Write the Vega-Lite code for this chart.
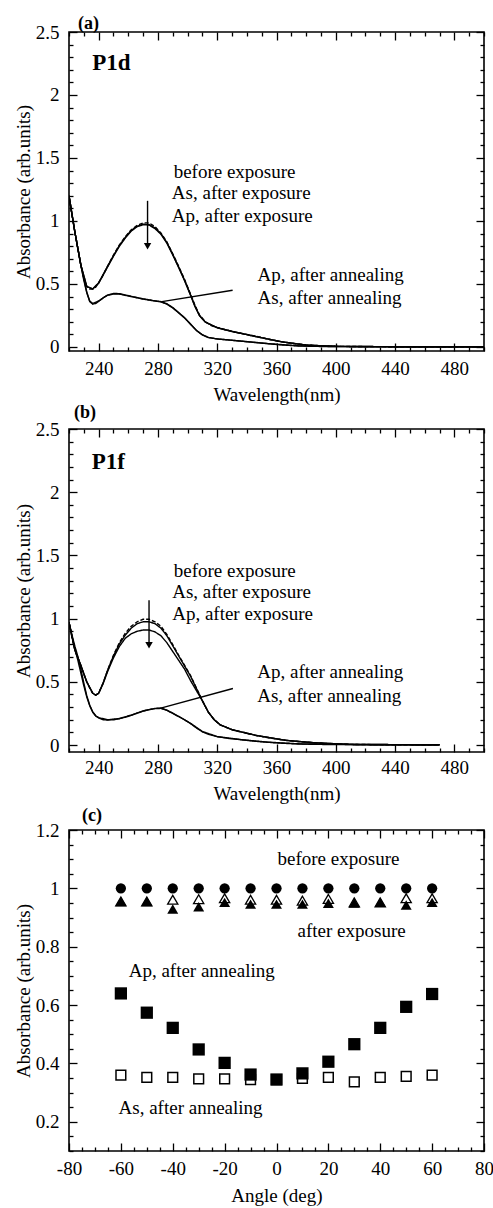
{
  "$schema": "https://vega.github.io/schema/vega-lite/v6.json",
  "padding": {"left": 13, "top": 14, "right": 5, "bottom": 2},
  "background": "white",
  "config": {
    "font": "Liberation Serif",
    "view": {"stroke": "black", "strokeWidth": 1.6},
    "axis": {"grid": false, "domain": false, "labelFont": "Liberation Serif", "labelFontSize": 19, "labelColor": "black", "titleFont": "Liberation Serif", "titleFontSize": 19, "titleFontWeight": "normal", "titleColor": "black", "tickColor": "black", "tickWidth": 1.3, "labelOverlap": false, "labelFlush": false, "labelBound": false},
    "title": {"font": "Liberation Serif", "color": "black"},
    "text": {"font": "Liberation Serif", "color": "black"}
  },
  "datasets": {
    "lineA": [
      {"s":"before","x":220,"y":1.2},{"s":"before","x":222,"y":1.05},{"s":"before","x":224,"y":0.91},{"s":"before","x":226,"y":0.78},{"s":"before","x":228,"y":0.65},{"s":"before","x":230,"y":0.54},{"s":"before","x":232,"y":0.48},{"s":"before","x":234,"y":0.46},{"s":"before","x":236,"y":0.46},{"s":"before","x":238,"y":0.475},{"s":"before","x":240,"y":0.51},{"s":"before","x":243,"y":0.57},{"s":"before","x":246,"y":0.64},{"s":"before","x":250,"y":0.73},{"s":"before","x":254,"y":0.81},{"s":"before","x":258,"y":0.875},{"s":"before","x":262,"y":0.93},{"s":"before","x":266,"y":0.965},{"s":"before","x":270,"y":0.985},{"s":"before","x":274,"y":0.985},{"s":"before","x":278,"y":0.955},{"s":"before","x":282,"y":0.905},{"s":"before","x":286,"y":0.835},{"s":"before","x":290,"y":0.74},{"s":"before","x":294,"y":0.64},{"s":"before","x":298,"y":0.535},{"s":"before","x":302,"y":0.42},{"s":"before","x":305,"y":0.33},{"s":"before","x":308,"y":0.255},{"s":"before","x":312,"y":0.2},{"s":"before","x":316,"y":0.17},{"s":"before","x":320,"y":0.155},{"s":"before","x":326,"y":0.135},{"s":"before","x":332,"y":0.12},{"s":"before","x":340,"y":0.1},{"s":"before","x":348,"y":0.08},{"s":"before","x":356,"y":0.057},{"s":"before","x":364,"y":0.04},{"s":"before","x":372,"y":0.027},{"s":"before","x":380,"y":0.016},{"s":"before","x":390,"y":0.008},{"s":"before","x":400,"y":0.005},{"s":"before","x":420,"y":0.003},{"s":"before","x":440,"y":0.002},{"s":"before","x":460,"y":0.002},{"s":"before","x":480,"y":0.002},{"s":"before","x":500,"y":0.002},
      {"s":"As_exp","x":220,"y":1.2},{"s":"As_exp","x":224,"y":0.91},{"s":"As_exp","x":228,"y":0.65},{"s":"As_exp","x":232,"y":0.48},{"s":"As_exp","x":236,"y":0.46},{"s":"As_exp","x":240,"y":0.51},{"s":"As_exp","x":246,"y":0.64},{"s":"As_exp","x":250,"y":0.725},{"s":"As_exp","x":254,"y":0.805},{"s":"As_exp","x":258,"y":0.87},{"s":"As_exp","x":262,"y":0.925},{"s":"As_exp","x":266,"y":0.958},{"s":"As_exp","x":270,"y":0.975},{"s":"As_exp","x":274,"y":0.972},{"s":"As_exp","x":278,"y":0.945},{"s":"As_exp","x":282,"y":0.9},{"s":"As_exp","x":286,"y":0.83},{"s":"As_exp","x":290,"y":0.735},{"s":"As_exp","x":294,"y":0.635},{"s":"As_exp","x":298,"y":0.53},{"s":"As_exp","x":302,"y":0.415},{"s":"As_exp","x":305,"y":0.325},{"s":"As_exp","x":308,"y":0.25},{"s":"As_exp","x":312,"y":0.198},{"s":"As_exp","x":320,"y":0.153},{"s":"As_exp","x":332,"y":0.118},{"s":"As_exp","x":348,"y":0.078},{"s":"As_exp","x":364,"y":0.04},{"s":"As_exp","x":380,"y":0.015},{"s":"As_exp","x":400,"y":0.005},{"s":"As_exp","x":440,"y":0.002},{"s":"As_exp","x":500,"y":0.002},
      {"s":"Ap_exp","x":220,"y":1.2},{"s":"Ap_exp","x":224,"y":0.91},{"s":"Ap_exp","x":228,"y":0.65},{"s":"Ap_exp","x":232,"y":0.48},{"s":"Ap_exp","x":236,"y":0.46},{"s":"Ap_exp","x":240,"y":0.505},{"s":"Ap_exp","x":246,"y":0.635},{"s":"Ap_exp","x":250,"y":0.72},{"s":"Ap_exp","x":254,"y":0.8},{"s":"Ap_exp","x":258,"y":0.865},{"s":"Ap_exp","x":262,"y":0.92},{"s":"Ap_exp","x":266,"y":0.955},{"s":"Ap_exp","x":270,"y":0.97},{"s":"Ap_exp","x":274,"y":0.968},{"s":"Ap_exp","x":278,"y":0.94},{"s":"Ap_exp","x":282,"y":0.895},{"s":"Ap_exp","x":286,"y":0.825},{"s":"Ap_exp","x":290,"y":0.73},{"s":"Ap_exp","x":294,"y":0.63},{"s":"Ap_exp","x":298,"y":0.525},{"s":"Ap_exp","x":302,"y":0.41},{"s":"Ap_exp","x":305,"y":0.32},{"s":"Ap_exp","x":308,"y":0.25},{"s":"Ap_exp","x":312,"y":0.197},{"s":"Ap_exp","x":320,"y":0.152},{"s":"Ap_exp","x":332,"y":0.117},{"s":"Ap_exp","x":348,"y":0.078},{"s":"Ap_exp","x":364,"y":0.04},{"s":"Ap_exp","x":380,"y":0.015},{"s":"Ap_exp","x":400,"y":0.005},{"s":"Ap_exp","x":440,"y":0.002},{"s":"Ap_exp","x":500,"y":0.002},
      {"s":"Ap_ann","x":220,"y":1.2},{"s":"Ap_ann","x":222,"y":1.05},{"s":"Ap_ann","x":224,"y":0.91},{"s":"Ap_ann","x":226,"y":0.78},{"s":"Ap_ann","x":228,"y":0.65},{"s":"Ap_ann","x":230,"y":0.53},{"s":"Ap_ann","x":232,"y":0.43},{"s":"Ap_ann","x":234,"y":0.36},{"s":"Ap_ann","x":236,"y":0.34},{"s":"Ap_ann","x":238,"y":0.345},{"s":"Ap_ann","x":240,"y":0.362},{"s":"Ap_ann","x":243,"y":0.39},{"s":"Ap_ann","x":246,"y":0.41},{"s":"Ap_ann","x":250,"y":0.42},{"s":"Ap_ann","x":254,"y":0.42},{"s":"Ap_ann","x":258,"y":0.41},{"s":"Ap_ann","x":262,"y":0.4},{"s":"Ap_ann","x":266,"y":0.39},{"s":"Ap_ann","x":270,"y":0.38},{"s":"Ap_ann","x":274,"y":0.372},{"s":"Ap_ann","x":278,"y":0.365},{"s":"Ap_ann","x":282,"y":0.358},{"s":"Ap_ann","x":286,"y":0.34},{"s":"Ap_ann","x":290,"y":0.31},{"s":"Ap_ann","x":294,"y":0.27},{"s":"Ap_ann","x":298,"y":0.23},{"s":"Ap_ann","x":302,"y":0.18},{"s":"Ap_ann","x":306,"y":0.13},{"s":"Ap_ann","x":310,"y":0.095},{"s":"Ap_ann","x":314,"y":0.075},{"s":"Ap_ann","x":320,"y":0.063},{"s":"Ap_ann","x":328,"y":0.055},{"s":"Ap_ann","x":336,"y":0.046},{"s":"Ap_ann","x":345,"y":0.036},{"s":"Ap_ann","x":355,"y":0.025},{"s":"Ap_ann","x":365,"y":0.015},{"s":"Ap_ann","x":375,"y":0.008},{"s":"Ap_ann","x":390,"y":0.004},{"s":"Ap_ann","x":420,"y":0.002},{"s":"Ap_ann","x":460,"y":0.002},{"s":"Ap_ann","x":500,"y":0.002},
      {"s":"As_ann","x":220,"y":1.2},{"s":"As_ann","x":224,"y":0.91},{"s":"As_ann","x":228,"y":0.65},{"s":"As_ann","x":232,"y":0.435},{"s":"As_ann","x":234,"y":0.365},{"s":"As_ann","x":236,"y":0.345},{"s":"As_ann","x":240,"y":0.365},{"s":"As_ann","x":246,"y":0.412},{"s":"As_ann","x":250,"y":0.425},{"s":"As_ann","x":254,"y":0.423},{"s":"As_ann","x":262,"y":0.402},{"s":"As_ann","x":270,"y":0.382},{"s":"As_ann","x":278,"y":0.366},{"s":"As_ann","x":282,"y":0.36},{"s":"As_ann","x":286,"y":0.343},{"s":"As_ann","x":290,"y":0.313},{"s":"As_ann","x":294,"y":0.273},{"s":"As_ann","x":298,"y":0.232},{"s":"As_ann","x":302,"y":0.182},{"s":"As_ann","x":306,"y":0.132},{"s":"As_ann","x":310,"y":0.097},{"s":"As_ann","x":314,"y":0.076},{"s":"As_ann","x":320,"y":0.064},{"s":"As_ann","x":336,"y":0.047},{"s":"As_ann","x":355,"y":0.026},{"s":"As_ann","x":375,"y":0.009},{"s":"As_ann","x":400,"y":0.003},{"s":"As_ann","x":460,"y":0.002},{"s":"As_ann","x":500,"y":0.002}
    ],
    "lineB": [
      {"s":"before","x":220,"y":0.97},{"s":"before","x":222,"y":0.85},{"s":"before","x":224,"y":0.75},{"s":"before","x":226,"y":0.69},{"s":"before","x":228,"y":0.63},{"s":"before","x":230,"y":0.56},{"s":"before","x":232,"y":0.5},{"s":"before","x":234,"y":0.45},{"s":"before","x":236,"y":0.41},{"s":"before","x":238,"y":0.395},{"s":"before","x":240,"y":0.41},{"s":"before","x":243,"y":0.49},{"s":"before","x":246,"y":0.59},{"s":"before","x":250,"y":0.71},{"s":"before","x":254,"y":0.81},{"s":"before","x":258,"y":0.885},{"s":"before","x":262,"y":0.94},{"s":"before","x":266,"y":0.975},{"s":"before","x":270,"y":0.995},{"s":"before","x":274,"y":0.995},{"s":"before","x":278,"y":0.975},{"s":"before","x":282,"y":0.94},{"s":"before","x":286,"y":0.875},{"s":"before","x":290,"y":0.795},{"s":"before","x":294,"y":0.71},{"s":"before","x":298,"y":0.63},{"s":"before","x":302,"y":0.55},{"s":"before","x":306,"y":0.45},{"s":"before","x":310,"y":0.35},{"s":"before","x":314,"y":0.26},{"s":"before","x":318,"y":0.2},{"s":"before","x":322,"y":0.16},{"s":"before","x":330,"y":0.122},{"s":"before","x":338,"y":0.1},{"s":"before","x":346,"y":0.077},{"s":"before","x":356,"y":0.055},{"s":"before","x":366,"y":0.038},{"s":"before","x":376,"y":0.026},{"s":"before","x":386,"y":0.018},{"s":"before","x":396,"y":0.011},{"s":"before","x":410,"y":0.005},{"s":"before","x":430,"y":0.003},{"s":"before","x":450,"y":0.002},{"s":"before","x":470,"y":0.002},
      {"s":"As_exp","x":220,"y":0.97},{"s":"As_exp","x":224,"y":0.75},{"s":"As_exp","x":228,"y":0.63},{"s":"As_exp","x":232,"y":0.5},{"s":"As_exp","x":236,"y":0.41},{"s":"As_exp","x":238,"y":0.395},{"s":"As_exp","x":240,"y":0.41},{"s":"As_exp","x":243,"y":0.49},{"s":"As_exp","x":246,"y":0.59},{"s":"As_exp","x":250,"y":0.705},{"s":"As_exp","x":254,"y":0.8},{"s":"As_exp","x":258,"y":0.87},{"s":"As_exp","x":262,"y":0.925},{"s":"As_exp","x":266,"y":0.96},{"s":"As_exp","x":270,"y":0.975},{"s":"As_exp","x":274,"y":0.975},{"s":"As_exp","x":278,"y":0.96},{"s":"As_exp","x":282,"y":0.925},{"s":"As_exp","x":286,"y":0.865},{"s":"As_exp","x":290,"y":0.785},{"s":"As_exp","x":294,"y":0.705},{"s":"As_exp","x":298,"y":0.625},{"s":"As_exp","x":302,"y":0.545},{"s":"As_exp","x":306,"y":0.447},{"s":"As_exp","x":310,"y":0.35},{"s":"As_exp","x":314,"y":0.26},{"s":"As_exp","x":318,"y":0.2},{"s":"As_exp","x":322,"y":0.16},{"s":"As_exp","x":330,"y":0.122},{"s":"As_exp","x":346,"y":0.077},{"s":"As_exp","x":366,"y":0.038},{"s":"As_exp","x":386,"y":0.018},{"s":"As_exp","x":410,"y":0.005},{"s":"As_exp","x":470,"y":0.002},
      {"s":"Ap_exp","x":220,"y":0.97},{"s":"Ap_exp","x":224,"y":0.75},{"s":"Ap_exp","x":228,"y":0.63},{"s":"Ap_exp","x":232,"y":0.5},{"s":"Ap_exp","x":236,"y":0.41},{"s":"Ap_exp","x":238,"y":0.395},{"s":"Ap_exp","x":240,"y":0.41},{"s":"Ap_exp","x":243,"y":0.485},{"s":"Ap_exp","x":246,"y":0.58},{"s":"Ap_exp","x":250,"y":0.69},{"s":"Ap_exp","x":254,"y":0.78},{"s":"Ap_exp","x":258,"y":0.845},{"s":"Ap_exp","x":262,"y":0.88},{"s":"Ap_exp","x":266,"y":0.9},{"s":"Ap_exp","x":270,"y":0.91},{"s":"Ap_exp","x":274,"y":0.91},{"s":"Ap_exp","x":278,"y":0.895},{"s":"Ap_exp","x":282,"y":0.865},{"s":"Ap_exp","x":286,"y":0.81},{"s":"Ap_exp","x":290,"y":0.74},{"s":"Ap_exp","x":294,"y":0.67},{"s":"Ap_exp","x":298,"y":0.6},{"s":"Ap_exp","x":302,"y":0.51},{"s":"Ap_exp","x":306,"y":0.43},{"s":"Ap_exp","x":310,"y":0.35},{"s":"Ap_exp","x":314,"y":0.26},{"s":"Ap_exp","x":318,"y":0.2},{"s":"Ap_exp","x":322,"y":0.16},{"s":"Ap_exp","x":330,"y":0.12},{"s":"Ap_exp","x":346,"y":0.076},{"s":"Ap_exp","x":366,"y":0.037},{"s":"Ap_exp","x":386,"y":0.017},{"s":"Ap_exp","x":410,"y":0.005},{"s":"Ap_exp","x":470,"y":0.002},
      {"s":"Ap_ann","x":220,"y":0.97},{"s":"Ap_ann","x":222,"y":0.86},{"s":"Ap_ann","x":224,"y":0.76},{"s":"Ap_ann","x":226,"y":0.67},{"s":"Ap_ann","x":228,"y":0.57},{"s":"Ap_ann","x":230,"y":0.47},{"s":"Ap_ann","x":232,"y":0.38},{"s":"Ap_ann","x":234,"y":0.31},{"s":"Ap_ann","x":236,"y":0.26},{"s":"Ap_ann","x":238,"y":0.23},{"s":"Ap_ann","x":240,"y":0.215},{"s":"Ap_ann","x":243,"y":0.2},{"s":"Ap_ann","x":246,"y":0.198},{"s":"Ap_ann","x":250,"y":0.2},{"s":"Ap_ann","x":254,"y":0.208},{"s":"Ap_ann","x":258,"y":0.22},{"s":"Ap_ann","x":262,"y":0.235},{"s":"Ap_ann","x":266,"y":0.252},{"s":"Ap_ann","x":270,"y":0.268},{"s":"Ap_ann","x":274,"y":0.28},{"s":"Ap_ann","x":278,"y":0.288},{"s":"Ap_ann","x":282,"y":0.29},{"s":"Ap_ann","x":286,"y":0.275},{"s":"Ap_ann","x":290,"y":0.25},{"s":"Ap_ann","x":294,"y":0.225},{"s":"Ap_ann","x":298,"y":0.2},{"s":"Ap_ann","x":302,"y":0.17},{"s":"Ap_ann","x":306,"y":0.135},{"s":"Ap_ann","x":310,"y":0.105},{"s":"Ap_ann","x":314,"y":0.085},{"s":"Ap_ann","x":320,"y":0.066},{"s":"Ap_ann","x":328,"y":0.052},{"s":"Ap_ann","x":336,"y":0.042},{"s":"Ap_ann","x":344,"y":0.032},{"s":"Ap_ann","x":354,"y":0.022},{"s":"Ap_ann","x":364,"y":0.014},{"s":"Ap_ann","x":376,"y":0.008},{"s":"Ap_ann","x":390,"y":0.005},{"s":"Ap_ann","x":420,"y":0.003},{"s":"Ap_ann","x":470,"y":0.002},
      {"s":"As_ann","x":220,"y":0.97},{"s":"As_ann","x":222,"y":0.87},{"s":"As_ann","x":224,"y":0.78},{"s":"As_ann","x":226,"y":0.7},{"s":"As_ann","x":228,"y":0.6},{"s":"As_ann","x":230,"y":0.49},{"s":"As_ann","x":232,"y":0.39},{"s":"As_ann","x":234,"y":0.315},{"s":"As_ann","x":236,"y":0.263},{"s":"As_ann","x":238,"y":0.232},{"s":"As_ann","x":240,"y":0.217},{"s":"As_ann","x":246,"y":0.2},{"s":"As_ann","x":254,"y":0.21},{"s":"As_ann","x":262,"y":0.237},{"s":"As_ann","x":270,"y":0.27},{"s":"As_ann","x":278,"y":0.29},{"s":"As_ann","x":282,"y":0.292},{"s":"As_ann","x":286,"y":0.277},{"s":"As_ann","x":294,"y":0.227},{"s":"As_ann","x":302,"y":0.172},{"s":"As_ann","x":310,"y":0.107},{"s":"As_ann","x":320,"y":0.067},{"s":"As_ann","x":336,"y":0.043},{"s":"As_ann","x":354,"y":0.023},{"s":"As_ann","x":376,"y":0.009},{"s":"As_ann","x":420,"y":0.003},{"s":"As_ann","x":470,"y":0.002}
    ],
    "ruleA": [{"x":273,"y":1.16,"x2":273,"y2":0.8},{"x":282.7,"y":0.36,"x2":330.4,"y2":0.45}],
    "headA": [{"x":273,"y":0.8}],
    "textA": [
      {"x":290.6,"y":1.386,"label":"before exposure"},
      {"x":289.4,"y":1.22,"label":"As, after exposure"},
      {"x":289.4,"y":1.037,"label":"Ap, after exposure"},
      {"x":347.2,"y":0.574,"label":"Ap, after annealing"},
      {"x":347.2,"y":0.389,"label":"As, after annealing"}
    ],
    "nameA": [{"x":235.7,"y":2.25,"label":"P1d"}],
    "ruleB": [{"x":274,"y":1.145,"x2":274,"y2":0.79},{"x":281.3,"y":0.29,"x2":330.6,"y2":0.447}],
    "headB": [{"x":274,"y":0.79}],
    "textB": [
      {"x":290.7,"y":1.374,"label":"before exposure"},
      {"x":289.6,"y":1.21,"label":"As, after exposure"},
      {"x":289.6,"y":1.034,"label":"Ap, after exposure"},
      {"x":347,"y":0.574,"label":"Ap, after annealing"},
      {"x":347,"y":0.39,"label":"As, after annealing"}
    ],
    "nameB": [{"x":235.3,"y":2.24,"label":"P1f"}],
    "circC": [
      {"a":-60,"v":1},{"a":-50,"v":1},{"a":-40,"v":1},{"a":-30,"v":1},{"a":-20,"v":1},{"a":-10,"v":1},{"a":0,"v":1},{"a":10,"v":1},{"a":20,"v":1},{"a":30,"v":1},{"a":40,"v":1},{"a":50,"v":1},{"a":60,"v":1}
    ],
    "otriC": [
      {"a":-60,"v":0.955},{"a":-50,"v":0.955},{"a":-40,"v":0.961},{"a":-30,"v":0.963},{"a":-20,"v":0.966},{"a":-10,"v":0.961},{"a":0,"v":0.961},{"a":10,"v":0.958},{"a":20,"v":0.964},{"a":30,"v":0.952},{"a":40,"v":0.952},{"a":50,"v":0.966},{"a":60,"v":0.966}
    ],
    "ftriC": [
      {"a":-60,"v":0.955},{"a":-50,"v":0.955},{"a":-40,"v":0.929},{"a":-30,"v":0.937},{"a":-20,"v":0.952},{"a":-10,"v":0.946},{"a":0,"v":0.946},{"a":10,"v":0.946},{"a":20,"v":0.949},{"a":30,"v":0.95},{"a":40,"v":0.952},{"a":50,"v":0.943},{"a":60,"v":0.952}
    ],
    "osqC": [
      {"a":-60,"v":0.36},{"a":-50,"v":0.352},{"a":-40,"v":0.352},{"a":-30,"v":0.347},{"a":-20,"v":0.347},{"a":-10,"v":0.345},{"a":0,"v":0.345},{"a":10,"v":0.349},{"a":20,"v":0.352},{"a":30,"v":0.337},{"a":40,"v":0.352},{"a":50,"v":0.356},{"a":60,"v":0.36}
    ],
    "fsqC": [
      {"a":-60,"v":0.64},{"a":-50,"v":0.574},{"a":-40,"v":0.522},{"a":-30,"v":0.448},{"a":-20,"v":0.402},{"a":-10,"v":0.362},{"a":0,"v":0.345},{"a":10,"v":0.366},{"a":20,"v":0.406},{"a":30,"v":0.466},{"a":40,"v":0.522},{"a":50,"v":0.594},{"a":60,"v":0.638}
    ],
    "textC": [
      {"x":0.4,"y":1.099,"label":"before exposure"},
      {"x":8.1,"y":0.855,"label":"after exposure"},
      {"x":-57,"y":0.717,"label":"Ap, after annealing"},
      {"x":-60.9,"y":0.246,"label":"As, after annealing"}
    ]
  },
  "vconcat": [
    {
      "width": 415, "height": 319,
      "title": {"text": "(a)", "anchor": "start", "frame": "group", "dx": 9, "dy": 13, "offset": 3, "fontSize": 18, "fontWeight": "bold"},
      "resolve": {"axis": {"x": "independent", "y": "independent"}},
      "layer": [
        {
          "data": {"name": "lineA"},
          "mark": {"type": "line", "color": "black", "strokeWidth": 1.4, "clip": true},
          "encoding": {
            "x": {"field": "x", "type": "quantitative", "scale": {"domain": [220, 500], "nice": false, "zero": false},
              "axis": {"orient": "bottom", "title": "Wavelength(nm)", "titlePadding": 3, "labelPadding": 16,
                "values": [220,230,240,250,260,270,280,290,300,310,320,330,340,350,360,370,380,390,400,410,420,430,440,450,460,470,480,490,500],
                "labelExpr": "datum.value % 40 === 0 ? '' + datum.value : ''",
                "tickSize": {"condition": {"test": "datum.value % 40 === 0", "value": -8}, "value": -4}}},
            "y": {"field": "y", "type": "quantitative", "scale": {"domain": [-0.032, 2.5], "nice": false, "zero": false},
              "axis": {"orient": "left", "title": "Absorbance (arb.units)", "titlePadding": 2, "labelPadding": 18,
                "values": [0,0.1,0.2,0.3,0.4,0.5,0.6,0.7,0.8,0.9,1,1.1,1.2,1.3,1.4,1.5,1.6,1.7,1.8,1.9,2,2.1,2.2,2.3,2.4,2.5],
                "labelExpr": "abs(datum.value*2 - round(datum.value*2)) < 0.000001 ? '' + datum.value : ''",
                "tickSize": {"condition": {"test": "abs(datum.value*2 - round(datum.value*2)) < 0.000001", "value": -8}, "value": -4}}},
            "detail": {"field": "s", "type": "nominal"},
            "strokeDash": {"field": "s", "type": "nominal", "legend": null,
              "scale": {"domain": ["before","As_exp","Ap_exp","Ap_ann","As_ann"], "range": [[4,2],[1,0],[1,0],[1,0],[1,0]]}}
          }
        },
        {
          "data": {"name": "ruleA"},
          "mark": {"type": "rule", "color": "black", "strokeWidth": 1.4},
          "encoding": {
            "x": {"field": "x", "type": "quantitative", "scale": {"domain": [220, 500], "nice": false, "zero": false},
              "axis": {"orient": "top", "title": null, "labels": false,
                "values": [220,230,240,250,260,270,280,290,300,310,320,330,340,350,360,370,380,390,400,410,420,430,440,450,460,470,480,490,500],
                "tickSize": {"condition": {"test": "datum.value % 40 === 0", "value": -8}, "value": -4}}},
            "y": {"field": "y", "type": "quantitative", "scale": {"domain": [-0.032, 2.5], "nice": false, "zero": false},
              "axis": {"orient": "right", "title": null, "labels": false,
                "values": [0,0.1,0.2,0.3,0.4,0.5,0.6,0.7,0.8,0.9,1,1.1,1.2,1.3,1.4,1.5,1.6,1.7,1.8,1.9,2,2.1,2.2,2.3,2.4,2.5],
                "tickSize": {"condition": {"test": "abs(datum.value*2 - round(datum.value*2)) < 0.000001", "value": -8}, "value": -4}}},
            "x2": {"field": "x2"},
            "y2": {"field": "y2"}
          }
        },
        {
          "data": {"name": "headA"},
          "mark": {"type": "point", "shape": "triangle-down", "filled": true, "color": "black", "opacity": 1, "size": 55},
          "encoding": {
            "x": {"field": "x", "type": "quantitative", "axis": null},
            "y": {"field": "y", "type": "quantitative", "axis": null}
          }
        },
        {
          "data": {"name": "textA"},
          "mark": {"type": "text", "align": "left", "baseline": "middle", "fontSize": 19, "color": "black"},
          "encoding": {
            "x": {"field": "x", "type": "quantitative", "axis": null},
            "y": {"field": "y", "type": "quantitative", "axis": null},
            "text": {"field": "label"}
          }
        },
        {
          "data": {"name": "nameA"},
          "mark": {"type": "text", "align": "left", "baseline": "middle", "fontSize": 23, "fontWeight": "bold", "color": "black"},
          "encoding": {
            "x": {"field": "x", "type": "quantitative", "axis": null},
            "y": {"field": "y", "type": "quantitative", "axis": null},
            "text": {"field": "label"}
          }
        }
      ]
    },
    {
      "width": 415, "height": 323,
      "title": {"text": "(b)", "anchor": "start", "frame": "group", "dx": 5, "dy": 13, "offset": 11, "fontSize": 18, "fontWeight": "bold"},
      "resolve": {"axis": {"x": "independent", "y": "independent"}},
      "layer": [
        {
          "data": {"name": "lineB"},
          "mark": {"type": "line", "color": "black", "strokeWidth": 1.4, "clip": true},
          "encoding": {
            "x": {"field": "x", "type": "quantitative", "scale": {"domain": [220, 500], "nice": false, "zero": false},
              "axis": {"orient": "bottom", "title": "Wavelength(nm)", "titlePadding": 3, "labelPadding": 14,
                "values": [220,230,240,250,260,270,280,290,300,310,320,330,340,350,360,370,380,390,400,410,420,430,440,450,460,470,480,490,500],
                "labelExpr": "datum.value % 40 === 0 ? '' + datum.value : ''",
                "tickSize": {"condition": {"test": "datum.value % 40 === 0", "value": -8}, "value": -4}}},
            "y": {"field": "y", "type": "quantitative", "scale": {"domain": [-0.055, 2.5], "nice": false, "zero": false},
              "axis": {"orient": "left", "title": "Absorbance (arb.units)", "titlePadding": 2, "labelPadding": 18,
                "values": [0,0.1,0.2,0.3,0.4,0.5,0.6,0.7,0.8,0.9,1,1.1,1.2,1.3,1.4,1.5,1.6,1.7,1.8,1.9,2,2.1,2.2,2.3,2.4,2.5],
                "labelExpr": "abs(datum.value*2 - round(datum.value*2)) < 0.000001 ? '' + datum.value : ''",
                "tickSize": {"condition": {"test": "abs(datum.value*2 - round(datum.value*2)) < 0.000001", "value": -8}, "value": -4}}},
            "detail": {"field": "s", "type": "nominal"},
            "strokeDash": {"field": "s", "type": "nominal", "legend": null,
              "scale": {"domain": ["before","As_exp","Ap_exp","Ap_ann","As_ann"], "range": [[4,2],[1,0],[1,0],[1,0],[1,0]]}}
          }
        },
        {
          "data": {"name": "ruleB"},
          "mark": {"type": "rule", "color": "black", "strokeWidth": 1.4},
          "encoding": {
            "x": {"field": "x", "type": "quantitative", "scale": {"domain": [220, 500], "nice": false, "zero": false},
              "axis": {"orient": "top", "title": null, "labels": false,
                "values": [220,230,240,250,260,270,280,290,300,310,320,330,340,350,360,370,380,390,400,410,420,430,440,450,460,470,480,490,500],
                "tickSize": {"condition": {"test": "datum.value % 40 === 0", "value": -8}, "value": -4}}},
            "y": {"field": "y", "type": "quantitative", "scale": {"domain": [-0.055, 2.5], "nice": false, "zero": false},
              "axis": {"orient": "right", "title": null, "labels": false,
                "values": [0,0.1,0.2,0.3,0.4,0.5,0.6,0.7,0.8,0.9,1,1.1,1.2,1.3,1.4,1.5,1.6,1.7,1.8,1.9,2,2.1,2.2,2.3,2.4,2.5],
                "tickSize": {"condition": {"test": "abs(datum.value*2 - round(datum.value*2)) < 0.000001", "value": -8}, "value": -4}}},
            "x2": {"field": "x2"},
            "y2": {"field": "y2"}
          }
        },
        {
          "data": {"name": "headB"},
          "mark": {"type": "point", "shape": "triangle-down", "filled": true, "color": "black", "opacity": 1, "size": 55},
          "encoding": {
            "x": {"field": "x", "type": "quantitative", "axis": null},
            "y": {"field": "y", "type": "quantitative", "axis": null}
          }
        },
        {
          "data": {"name": "textB"},
          "mark": {"type": "text", "align": "left", "baseline": "middle", "fontSize": 19, "color": "black"},
          "encoding": {
            "x": {"field": "x", "type": "quantitative", "axis": null},
            "y": {"field": "y", "type": "quantitative", "axis": null},
            "text": {"field": "label"}
          }
        },
        {
          "data": {"name": "nameB"},
          "mark": {"type": "text", "align": "left", "baseline": "middle", "fontSize": 23, "fontWeight": "bold", "color": "black"},
          "encoding": {
            "x": {"field": "x", "type": "quantitative", "axis": null},
            "y": {"field": "y", "type": "quantitative", "axis": null},
            "text": {"field": "label"}
          }
        }
      ]
    },
    {
      "width": 415, "height": 321,
      "title": {"text": "(c)", "anchor": "start", "frame": "group", "dx": 13, "dy": 13, "offset": 9, "fontSize": 18, "fontWeight": "bold"},
      "resolve": {"axis": {"x": "independent", "y": "independent"}},
      "layer": [
        {
          "data": {"name": "circC"},
          "mark": {"type": "point", "shape": "circle", "filled": true, "color": "black", "opacity": 1, "size": 105},
          "encoding": {
            "x": {"field": "a", "type": "quantitative", "scale": {"domain": [-80, 80], "nice": false, "zero": false},
              "axis": {"orient": "bottom", "title": "Angle (deg)", "titlePadding": 4, "labelPadding": 16,
                "values": [-80,-75,-70,-65,-60,-55,-50,-45,-40,-35,-30,-25,-20,-15,-10,-5,0,5,10,15,20,25,30,35,40,45,50,55,60,65,70,75,80],
                "labelExpr": "datum.value % 20 === 0 ? '' + datum.value : ''",
                "tickSize": {"condition": {"test": "datum.value % 20 === 0", "value": -8}, "value": -4}}},
            "y": {"field": "v", "type": "quantitative", "scale": {"domain": [0.1, 1.2], "nice": false, "zero": false},
              "axis": {"orient": "left", "title": "Absorbance (arb.units)", "titlePadding": 2, "labelPadding": 18,
                "values": [0.1,0.15,0.2,0.25,0.3,0.35,0.4,0.45,0.5,0.55,0.6,0.65,0.7,0.75,0.8,0.85,0.9,0.95,1,1.05,1.1,1.15,1.2],
                "labelExpr": "abs(datum.value*5 - round(datum.value*5)) < 0.000001 ? '' + datum.value : ''",
                "tickSize": {"condition": {"test": "abs(datum.value*5 - round(datum.value*5)) < 0.000001", "value": -8}, "value": -4}}}
          }
        },
        {
          "data": {"name": "otriC"},
          "mark": {"type": "point", "shape": "triangle-up", "filled": true, "fill": "white", "stroke": "black", "strokeWidth": 1.3, "opacity": 1, "size": 105},
          "encoding": {
            "x": {"field": "a", "type": "quantitative", "scale": {"domain": [-80, 80], "nice": false, "zero": false},
              "axis": {"orient": "top", "title": null, "labels": false,
                "values": [-80,-75,-70,-65,-60,-55,-50,-45,-40,-35,-30,-25,-20,-15,-10,-5,0,5,10,15,20,25,30,35,40,45,50,55,60,65,70,75,80],
                "tickSize": {"condition": {"test": "datum.value % 20 === 0", "value": -8}, "value": -4}}},
            "y": {"field": "v", "type": "quantitative", "scale": {"domain": [0.1, 1.2], "nice": false, "zero": false},
              "axis": {"orient": "right", "title": null, "labels": false,
                "values": [0.1,0.15,0.2,0.25,0.3,0.35,0.4,0.45,0.5,0.55,0.6,0.65,0.7,0.75,0.8,0.85,0.9,0.95,1,1.05,1.1,1.15,1.2],
                "tickSize": {"condition": {"test": "abs(datum.value*5 - round(datum.value*5)) < 0.000001", "value": -8}, "value": -4}}}
          }
        },
        {
          "data": {"name": "ftriC"},
          "mark": {"type": "point", "shape": "triangle-up", "filled": true, "color": "black", "opacity": 1, "size": 120},
          "encoding": {
            "x": {"field": "a", "type": "quantitative", "axis": null},
            "y": {"field": "v", "type": "quantitative", "axis": null}
          }
        },
        {
          "data": {"name": "osqC"},
          "mark": {"type": "point", "shape": "square", "filled": true, "fill": "white", "stroke": "black", "strokeWidth": 1.5, "opacity": 1, "size": 95},
          "encoding": {
            "x": {"field": "a", "type": "quantitative", "axis": null},
            "y": {"field": "v", "type": "quantitative", "axis": null}
          }
        },
        {
          "data": {"name": "fsqC"},
          "mark": {"type": "point", "shape": "square", "filled": true, "color": "black", "opacity": 1, "size": 150},
          "encoding": {
            "x": {"field": "a", "type": "quantitative", "axis": null},
            "y": {"field": "v", "type": "quantitative", "axis": null}
          }
        },
        {
          "data": {"name": "textC"},
          "mark": {"type": "text", "align": "left", "baseline": "middle", "fontSize": 19, "color": "black"},
          "encoding": {
            "x": {"field": "x", "type": "quantitative", "axis": null},
            "y": {"field": "y", "type": "quantitative", "axis": null},
            "text": {"field": "label"}
          }
        }
      ]
    }
  ],
  "bounds": "flush",
  "spacing": 78
}
